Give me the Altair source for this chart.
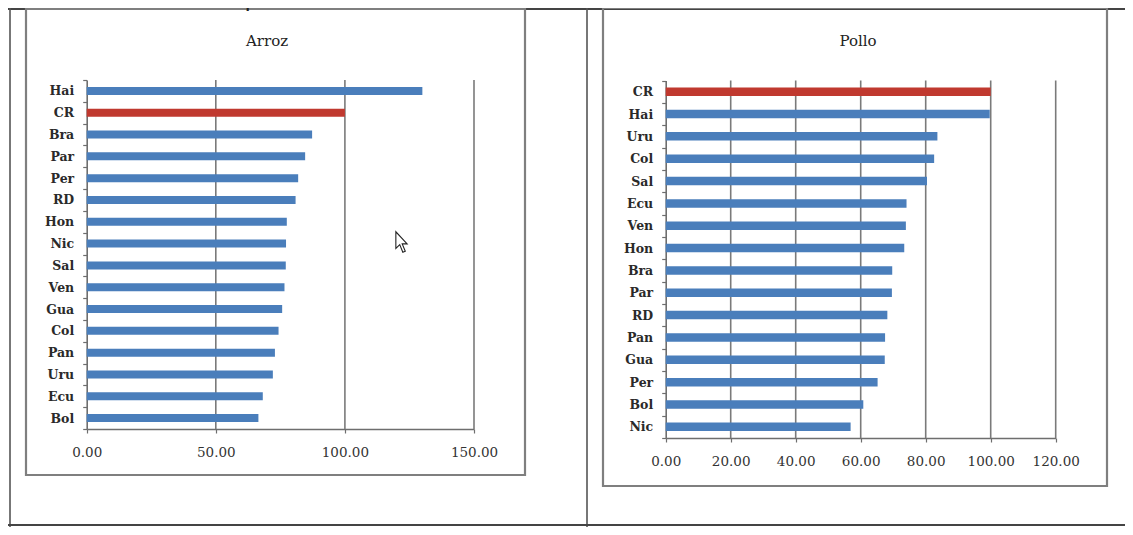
import altair as alt
import pandas as pd

# ---- data ----
arroz_paises = ["Hai", "CR", "Bra", "Par", "Per", "RD", "Hon", "Nic",
                "Sal", "Ven", "Gua", "Col", "Pan", "Uru", "Ecu", "Bol"]
arroz_valores = [130.0, 100.0, 87.3, 84.6, 81.9, 80.9, 77.5, 77.2,
                 77.1, 76.6, 75.7, 74.3, 72.9, 72.1, 68.2, 66.5]

pollo_paises = ["CR", "Hai", "Uru", "Col", "Sal", "Ecu", "Ven", "Hon",
                "Bra", "Par", "RD", "Pan", "Gua", "Per", "Bol", "Nic"]
pollo_valores = [100.0, 99.7, 83.6, 82.6, 80.4, 74.1, 73.9, 73.4,
                 69.7, 69.6, 68.2, 67.5, 67.4, 65.2, 60.8, 56.9]

arroz_ticks = [0, 50, 100, 150]
pollo_ticks = [0, 20, 40, 60, 80, 100, 120]

titulo_doc = "Precios PPA de cuatro productos alimenticios"
titulo_arroz = "Arroz"
titulo_pollo = "Pollo"

AZUL = "#4a7ebb"
ROJO = "#c0392f"
GRIS = "#7a7a7a"
FONT = "DejaVu Serif"

W, H = 1117, 519

arroz_df = pd.DataFrame({"pais": arroz_paises, "valor": arroz_valores})
pollo_df = pd.DataFrame({"pais": pollo_paises, "valor": pollo_valores})
arroz_grid_df = pd.DataFrame({"valor": [t for t in arroz_ticks if t > 0]})
pollo_grid_df = pd.DataFrame({"valor": [t for t in pollo_ticks if t > 0]})
one = pd.DataFrame({"k": [0]})


def axis_x(values, offset):
    return alt.Axis(orient="bottom", offset=offset, values=values, format=".2f",
                    title=None, grid=False,
                    domainColor="#6e6e6e", domainWidth=1.6,
                    tickColor="#6e6e6e", tickSize=4, tickWidth=1.2,
                    labelFont=FONT, labelFontSize=13.5, labelColor="#333333",
                    labelPadding=12, labelFlush=False)


def axis_y(offset):
    return alt.Axis(orient="left", offset=offset, title=None, grid=False,
                    domainColor="#6e6e6e", domainWidth=1.6,
                    tickColor="#6e6e6e", tickSize=4, tickWidth=1.2, tickBand="extent",
                    labelFont=FONT, labelFontSize=12.5, labelFontWeight="bold",
                    labelColor="#2a2a2a", labelPadding=9)


color_cond = alt.condition(alt.datum.pais == "CR", alt.value(ROJO), alt.value(AZUL))

# Arroz panel
ax_top, ax_bot = 72, 421
x_arroz = alt.X("valor:Q", scale=alt.Scale(domain=[0, 150], range=[78.7, 466], nice=False),
                axis=axis_x(arroz_ticks, -(H - ax_bot)))
arroz_grid = alt.Chart(arroz_grid_df).mark_rule(stroke=GRIS, strokeWidth=1.6).encode(
    x=x_arroz, y=alt.value(ax_top), y2=alt.value(ax_bot))
arroz_bars = alt.Chart(arroz_df).mark_bar(size=8).encode(
    x=x_arroz,
    y=alt.Y("pais:N", sort=arroz_paises,
            scale=alt.Scale(range=[ax_top, ax_bot], paddingInner=0, paddingOuter=0),
            axis=axis_y(-78.7)),
    color=color_cond,
)
arroz = alt.layer(arroz_grid, arroz_bars)

# Pollo panel
po_top, po_bot = 72.5, 430
x_pollo = alt.X("valor:Q", scale=alt.Scale(domain=[0, 120], range=[657.7, 1047.7], nice=False),
                axis=axis_x(pollo_ticks, -(H - po_bot)))
pollo_grid = alt.Chart(pollo_grid_df).mark_rule(stroke=GRIS, strokeWidth=1.6).encode(
    x=x_pollo, y=alt.value(po_top), y2=alt.value(po_bot))
pollo_bars = alt.Chart(pollo_df).mark_bar(size=8.5).encode(
    x=x_pollo,
    y=alt.Y("pais:N", sort=pollo_paises,
            scale=alt.Scale(range=[po_top, po_bot], paddingInner=0, paddingOuter=0),
            axis=axis_y(-657.7)),
    color=color_cond,
)
pollo = alt.layer(pollo_grid, pollo_bars)


# ---- frames of the document page (decoration) ----
def box(x1, x2, y1, y2, w=2.2, c="#7f7f7f"):
    return alt.Chart(one).mark_rect(fillOpacity=0, stroke=c, strokeWidth=w).encode(
        x=alt.value(x1), x2=alt.value(x2), y=alt.value(y1), y2=alt.value(y2))


def hline(x1, x2, y, w=1.6, c="#555555"):
    return alt.Chart(one).mark_rule(stroke=c, strokeWidth=w).encode(
        x=alt.value(x1), x2=alt.value(x2), y=alt.value(y))


def vline(x, y1, y2, w=1.6, c="#555555"):
    return alt.Chart(one).mark_rule(stroke=c, strokeWidth=w).encode(
        x=alt.value(x), y=alt.value(y1), y2=alt.value(y2))


frames = [
    hline(0, W, 1, 2.0, "#444444"),
    vline(2, 0, H),
    vline(579, 0, H),
    hline(0, W, 517, 2.0, "#444444"),
    box(18, 517, 1, 467),
    box(595, 1099, 0, 478),
]

titles = [
    alt.Chart(one).mark_text(font=FONT, fontSize=15, color="#222222", align="center",
                             baseline="middle").encode(
        x=alt.value(259), y=alt.value(33), text=alt.value(titulo_arroz)),
    alt.Chart(one).mark_text(font=FONT, fontSize=15, color="#222222", align="center",
                             baseline="middle").encode(
        x=alt.value(850), y=alt.value(33), text=alt.value(titulo_pollo)),
    alt.Chart(one).mark_text(font="Liberation Sans", fontSize=24, color="#222222",
                             align="left", baseline="alphabetic").encode(
        x=alt.value(-8), y=alt.value(-2), text=alt.value(titulo_doc)),
]

cursor = alt.Chart(one).mark_point(
    shape="M-0.6,-1 L-0.6,0.62 L-0.22,0.26 L0.08,1 L0.32,0.9 L0.02,0.18 L0.5,0.18 Z",
    size=420, filled=True, fill="white", stroke="#222222", strokeWidth=1.1, opacity=1,
).encode(x=alt.value(394), y=alt.value(234))

chart = alt.layer(
    *frames, arroz, pollo, *titles, cursor
).resolve_scale(x="independent", y="independent").resolve_axis(
    x="independent", y="independent"
).properties(
    width=W, height=H, padding=0, autosize=alt.AutoSizeParams(type="none"),
    background="white",
).configure_view(stroke=None)

chart.save("out.html", embed_options={"renderer": "svg", "actions": False})
